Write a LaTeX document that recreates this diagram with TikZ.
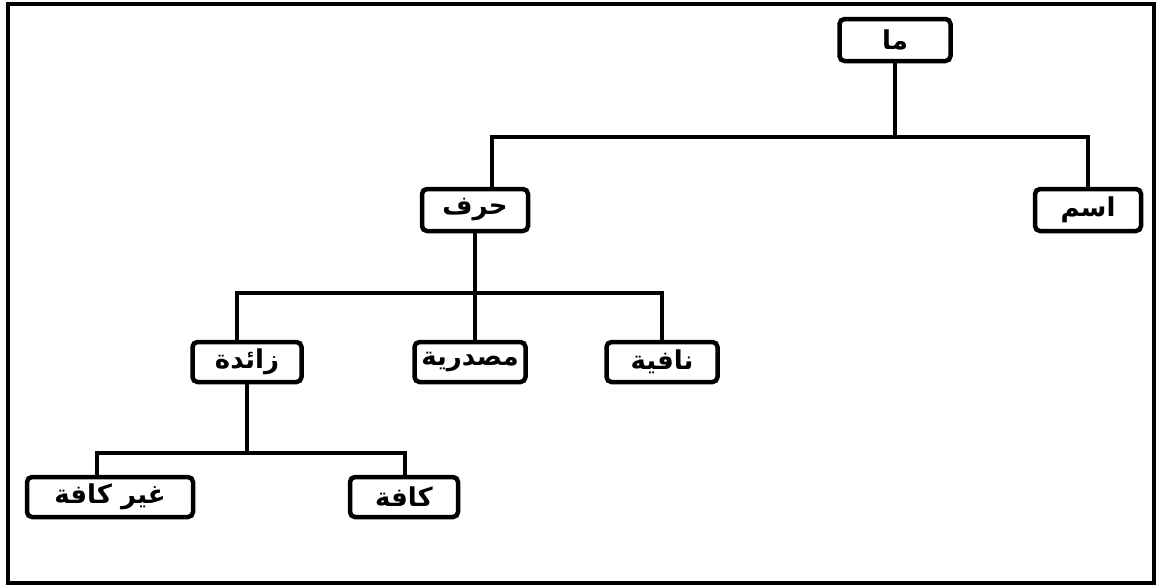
\documentclass[tikz,border=0pt]{standalone}
\usepackage{fontspec}
\newfontfamily\arabicfont[Script=Arabic]{DejaVu Sans}
\TeXXeTstate=1
\begin{document}
\begin{tikzpicture}[x=1pt,y=-1pt,
  box/.style={draw, line width=4.5pt, rounded corners=5pt, minimum height=40pt, inner sep=0pt,
    font=\arabicfont\bfseries\fontsize{26}{30}\selectfont},
  edge/.style={line width=3.5pt}]
\useasboundingbox (0,0) rectangle (1157,587);
\draw [line width=4.5pt] (8,4) rectangle (1154,583);
% level 0
\node (ma) [box, minimum width=111pt, minimum height=42pt] at (895,40) {\beginR ما\endR};
% level 1
\node (harf) [box, minimum width=106pt, minimum height=42pt] at (475,210) {\beginR حرف\endR};
\node (ism) [box, minimum width=106pt, minimum height=42pt] at (1088,210) {\beginR اسم\endR};
% level 2
\node (zaida) [box, minimum width=109pt] at (247,362) {\beginR زائدة\endR};
\node (masdaria) [box, minimum width=111pt] at (470,362) {\beginR مصدرية\endR};
\node (nafia) [box, minimum width=111pt] at (662,362) {\beginR نافية\endR};
% level 3
\node (ghair) [box, minimum width=166pt] at (110,497) {\beginR غير كافة\endR};
\node (kaffa) [box, minimum width=108pt] at (404,497) {\beginR كافة\endR};
% connectors
\coordinate (bar1) at (893,137);
\draw [edge] (ma.south) -- (ma.south |- bar1);
\draw [edge] (harf.north -| 492,0) |- (bar1) -| (ism.north);
\coordinate (bar2) at (475,293);
\draw [edge] (harf.south) -- (bar2);
\draw [edge] (zaida.north -| 237,0) |- (bar2) -| (nafia.north);
\draw [edge] (masdaria.north -| bar2) -- (bar2);
\coordinate (bar3) at (247,453);
\draw [edge] (zaida.south) -- (bar3);
\draw [edge] (ghair.north -| 97,0) |- (bar3) -| (kaffa.north -| 405,0);
\end{tikzpicture}
\end{document}
